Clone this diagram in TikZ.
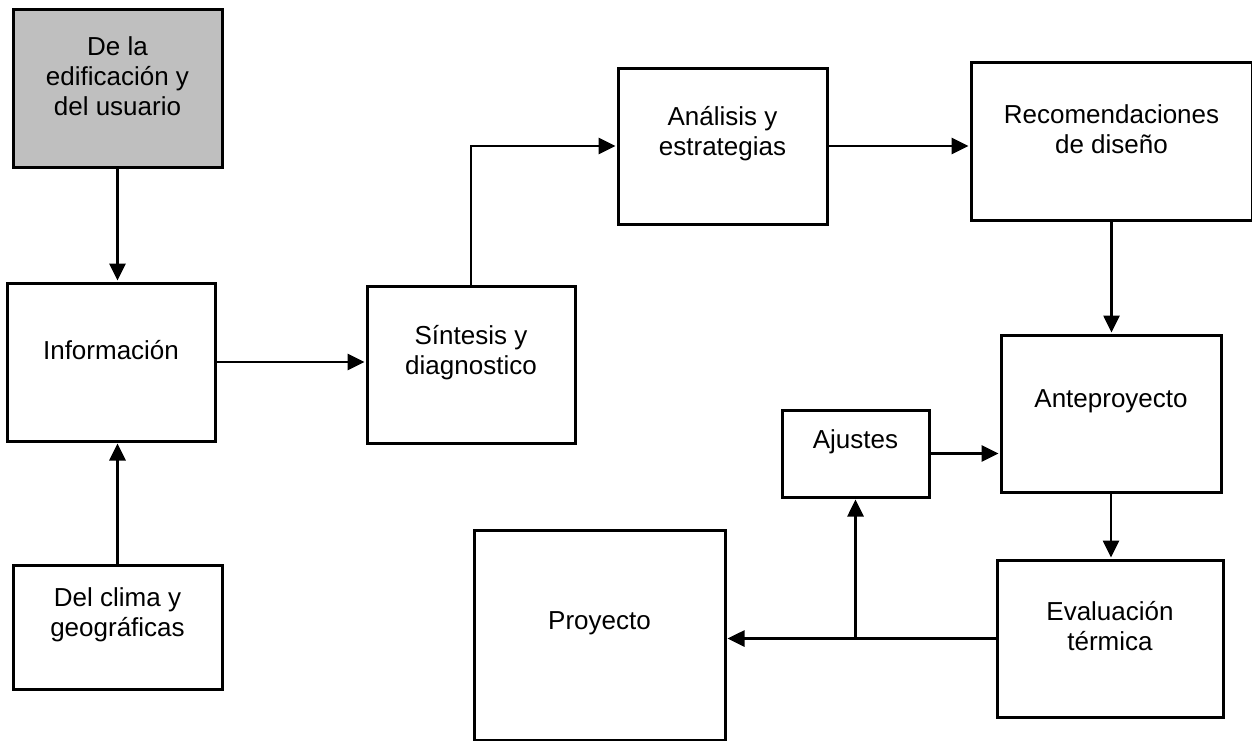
\documentclass[tikz,border=0pt]{standalone}
\usepackage{fontspec}
\setmainfont{Liberation Sans}
\usetikzlibrary{arrows.meta}
\begin{document}
\begin{tikzpicture}[x=1pt,y=-1pt]
      \tikzstyle{rect}=[draw,line width=3pt,inner sep=0pt]
      \tikzstyle{txt}=[align=center,yshift=12pt,font=\fontsize{26pt}{30pt}\selectfont]
      \tikzstyle{arr}=[line width=2.7pt,shorten >=1pt,-{Triangle[length=17pt,width=16pt]}]
      \useasboundingbox (0,0) rectangle (1252,740);

      \node[rect,fill=black!25,minimum width=209pt,minimum height=158pt,label={[txt]center:De la\\edificación y\\del usuario}] (edif) at (117.5,88) {};
      \node[rect,minimum width=208pt,minimum height=158pt,label={[txt]center:Información}] (info) at (111,362) {};
      \node[rect,minimum width=209pt,minimum height=124pt,label={[txt]center:Del clima y\\geográficas}] (clima) at (117.5,627) {};
      \node[rect,minimum width=208pt,minimum height=157pt,label={[txt]center:Síntesis y\\diagnostico}] (sint) at (471,364.5) {};
      \node[rect,minimum width=209pt,minimum height=156pt,label={[txt]center:Análisis y\\estrategias}] (anal) at (722.5,146) {};
      \node[rect,minimum width=281pt,minimum height=158pt,label={[txt]center:Recomendaciones\\de diseño}] (recom) at (1111.5,141) {};
      \node[rect,minimum width=220pt,minimum height=157pt,label={[txt]center:Anteproyecto}] (ante) at (1111,413.5) {};
      \node[rect,minimum width=147pt,minimum height=87pt,label={[txt]center:Ajustes}] (ajus) at (855.5,453.5) {};
      \node[rect,minimum width=226pt,minimum height=157pt,label={[txt]center:Evaluación\\térmica}] (eval) at (1110,638.5) {};
      \node[rect,minimum width=251pt,minimum height=210pt,label={[txt]center:Proyecto}] (proy) at (599.5,635) {};
      \coordinate (split) at (ajus.south |- eval.west);

      \draw[arr] (edif.south) -- (edif.south |- info.north);
      \draw[arr] (clima.north) -- (clima.north |- info.south);
      \draw[arr] (info.east) -- (info.east -| sint.west);
      \draw[arr] (sint.north) |- (anal.west);
      \draw[arr] (anal.east) -- (anal.east -| recom.west);
      \draw[arr] (recom.south) -- (recom.south |- ante.north);
      \draw[arr] (ajus.east) -- (ajus.east -| ante.west);
      \draw[arr] (ante.south) -- (ante.south |- eval.north);
      \draw[arr] (eval.west) -- (eval.west -| proy.east);
      \draw[arr] (split) -- (ajus.south);
    \end{tikzpicture}
\end{document}
